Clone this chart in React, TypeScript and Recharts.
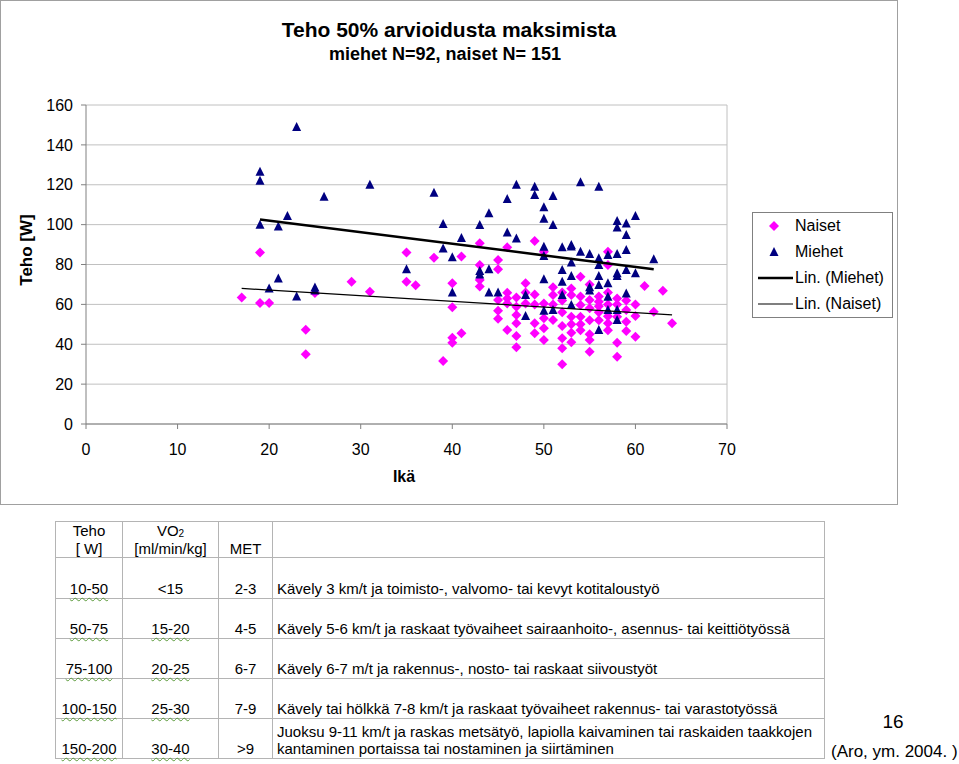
import { ScatterChart, Scatter, XAxis, YAxis, CartesianGrid, ReferenceLine } from "recharts";

// Ikä (age) / Teho (W) pairs
const naiset: [number, number][] = [
  [17, 63.5], [19, 86], [19, 60.7], [20, 60.7], [24, 47.3], [24, 35], [25, 65.7], [29, 71.4], [31, 66.3],
  [35, 86], [35, 71.4], [36, 69.6], [38, 83.4], [39, 31.6], [40, 70.6], [40, 58.5], [40, 43.3], [40, 40.8],
  [41, 84], [41, 45.5], [43, 90.6], [43, 79.7], [43, 72.2], [43, 69], [45, 82.2], [45, 77.6], [45, 62.2],
  [45, 56.8], [45, 52.8], [46, 88.6], [46, 65.8], [46, 63], [46, 60.5], [46, 47.1], [47, 63.5], [47, 58.8],
  [47, 54.7], [47, 50.5], [47, 44.1], [47, 38.5], [48, 70.6], [48, 66], [48, 60.5], [49, 91.8], [49, 65],
  [49, 60], [49, 50.5], [49, 45.5], [50, 86.4], [50, 60.5], [50, 53.1], [50, 48], [50, 42.1], [51, 68.6],
  [51, 64.7], [51, 60], [51, 52.2], [52, 66], [52, 62], [52, 56], [52, 49.1], [52, 43], [52, 38], [52, 30],
  [53, 68], [53, 64.7], [53, 53.8], [53, 50], [53, 45.8], [53, 41], [54, 73.9], [54, 64], [54, 59.7],
  [54, 53.8], [54, 50], [54, 47], [55, 70], [55, 62.2], [55, 58], [55, 52], [55, 45], [55, 42.1], [55, 36.3],
  [56, 64], [56, 61.3], [56, 59], [56, 56], [56, 52], [57, 86.4], [57, 79.7], [57, 66], [57, 60], [57, 54],
  [57, 50.5], [57, 47], [58, 63], [58, 60], [58, 53.8], [58, 40.8], [58, 33.7], [59, 62], [59, 57.2],
  [59, 51.3], [59, 46.6], [60, 60], [60, 54.2], [60, 43.8], [61, 69.2], [62, 56.3], [63, 66.8], [64, 50.5],
];

const miehet: [number, number][] = [
  [19, 126.5], [19, 122], [19, 100], [20, 68], [21, 99], [21, 73], [22, 104.3], [23, 149], [23, 64],
  [25, 68.5], [25, 67], [26, 114], [31, 120], [35, 77.6], [38, 116], [39, 100.3], [39, 88], [40, 83.6],
  [40, 66], [41, 93.3], [43, 99.8], [43, 76.7], [43, 75], [44, 105.7], [44, 77.6], [44, 66], [45, 66],
  [46, 112.8], [46, 96.1], [47, 120], [47, 93.1], [48, 64.7], [48, 54.2], [49, 119], [49, 114.8],
  [50, 108.7], [50, 103], [50, 88.9], [50, 84.3], [50, 72.6], [50, 56.8], [51, 114.3], [51, 99.8],
  [51, 57.2], [52, 88.6], [52, 77.2], [52, 71.4], [52, 64.7], [53, 89.8], [53, 89], [53, 81], [53, 74.2],
  [53, 59.7], [54, 121.2], [54, 86.4], [55, 85.3], [55, 68.6], [55, 67], [56, 119], [56, 83.1], [56, 79.7],
  [56, 74.2], [56, 69.7], [56, 47.1], [57, 84.8], [57, 70.6], [57, 63.8], [57, 57.2], [58, 101.8],
  [58, 98.5], [58, 85.3], [58, 75.6], [58, 74.2], [58, 57.2], [58, 52.2], [59, 100.6], [59, 94.8],
  [59, 87.3], [59, 77.2], [59, 65.5], [60, 104.3], [60, 75.6], [62, 82.6],
];

// trendline end points
const miehetTrend: [number, number][] = [[19, 102.6], [62, 77.6]];
const naisetTrend: [number, number][] = [[17, 68], [64, 54.7]];

const xTicks = [0, 10, 20, 30, 40, 50, 60, 70];
const yTicks = [0, 20, 40, 60, 80, 100, 120, 140, 160];

// table below the chart
const tehoCol = ["10-50", "50-75", "75-100", "100-150", "150-200"];
const vo2Col = ["<15", "15-20", "20-25", "25-30", "30-40"];
const metCol = ["2-3", "4-5", "6-7", "7-9", ">9"];
const descCol = [
  ["Kävely 3 km/t ja toimisto-, valvomo- tai kevyt kotitaloustyö"],
  ["Kävely 5-6 km/t ja raskaat työvaiheet sairaanhoito-, asennus- tai keittiötyössä"],
  ["Kävely 6-7 m/t ja rakennus-, nosto- tai raskaat siivoustyöt"],
  ["Kävely tai hölkkä 7-8 km/t ja raskaat työvaiheet rakennus- tai varastotyössä"],
  ["Juoksu 9-11 km/t ja raskas metsätyö, lapiolla kaivaminen tai raskaiden taakkojen", "kantaminen portaissa tai nostaminen ja siirtäminen"],
];

const FONT = '"Liberation Sans", Arial, sans-serif';
const toPts = (arr: [number, number][]) => arr.map(([x, y]) => ({ x, y }));

const Diamond = (props: any) => {
  const { cx, cy } = props;
  return <polygon points={`${cx},${cy - 5} ${cx + 5},${cy} ${cx},${cy + 5} ${cx - 5},${cy}`} fill="#ff00ff" />;
};

const Triangle = (props: any) => {
  const { cx, cy } = props;
  return <polygon points={`${cx},${cy - 5} ${cx + 4.5},${cy + 4} ${cx - 4.5},${cy + 4}`} fill="#000080" />;
};

const NoDot = () => <g />;

const squiggle = { textDecoration: "underline wavy #5a9a3a", textDecorationThickness: 1, textUnderlineOffset: 3 };

function LegendBox() {
  const row = { display: "flex", alignItems: "center", height: 26 };
  return (
    <div style={{ position: "absolute", left: 752, top: 212, width: 139, height: 104, border: "1px solid #808080", fontFamily: FONT, fontSize: 16 }}>
      <div style={row}>
        <svg width={42} height={26}><polygon points="21,8 26,13 21,18 16,13" fill="#ff00ff" /></svg>
        <span>Naiset</span>
      </div>
      <div style={row}>
        <svg width={42} height={26}><polygon points="21,8 25.5,17 16.5,17" fill="#000080" /></svg>
        <span>Miehet</span>
      </div>
      <div style={row}>
        <svg width={42} height={26}><line x1={5} x2={40} y1={13} y2={13} stroke="#000" strokeWidth={2.5} /></svg>
        <span>Lin. (Miehet)</span>
      </div>
      <div style={row}>
        <svg width={42} height={26}><line x1={5} x2={40} y1={13} y2={13} stroke="#000" strokeWidth={1.2} /></svg>
        <span>Lin. (Naiset)</span>
      </div>
    </div>
  );
}

export default function App() {
  const cell = { borderRight: "1px solid #b4b4b4", borderBottom: "1px solid #b4b4b4", padding: "0 4px 1px", verticalAlign: "bottom" as const };
  const head = { ...cell, textAlign: "center" as const, lineHeight: "17.5px", padding: "0 4px" };
  return (
    <div style={{ position: "absolute", left: 0, top: 0, width: 959, height: 764, background: "#fff", fontFamily: FONT, color: "#000", overflow: "hidden" }}>
      <div style={{ position: "absolute", left: 0, top: 0, width: 896, height: 503, border: "1px solid #a0a0a0" }} />
      <div style={{ position: "absolute", left: 449, top: 30, transform: "translate(-50%,-50%)", fontWeight: "bold", fontSize: 21, whiteSpace: "nowrap" }}>
        Teho 50% arvioidusta maksimista
      </div>
      <div style={{ position: "absolute", left: 445, top: 54, transform: "translate(-50%,-50%)", fontWeight: "bold", fontSize: 18, whiteSpace: "nowrap" }}>
        miehet N=92, naiset N= 151
      </div>
      <div style={{ position: "absolute", left: 27, top: 250, transform: "translate(-50%,-50%) rotate(-90deg)", fontWeight: "bold", fontSize: 17, whiteSpace: "nowrap" }}>
        Teho [W]
      </div>
      <div style={{ position: "absolute", left: 404, top: 477, transform: "translate(-50%,-50%)", fontWeight: "bold", fontSize: 16 }}>
        Ikä
      </div>

      <div style={{ position: "absolute", left: 0, top: 0 }}>
        <ScatterChart width={898} height={505} margin={{ top: 105, right: 171, bottom: 51, left: 0 }}>
          <CartesianGrid vertical={false} stroke="#c0c0c0" />
          <ReferenceLine x={70} stroke="#c0c0c0" />
          <XAxis
            type="number"
            dataKey="x"
            domain={[0, 70]}
            ticks={xTicks}
            height={30}
            tickSize={5}
            tickMargin={15}
            stroke="#808080"
            tick={{ fill: "#000", fontSize: 16, fontFamily: FONT }}
          />
          <YAxis
            type="number"
            dataKey="y"
            domain={[0, 160]}
            ticks={yTicks}
            width={86}
            tickSize={5}
            tickMargin={8}
            stroke="#808080"
            tick={{ fill: "#000", fontSize: 16, fontFamily: FONT }}
          />
          <Scatter name="Naiset" data={toPts(naiset)} shape={Diamond} isAnimationActive={false} />
          <Scatter name="Miehet" data={toPts(miehet)} shape={Triangle} isAnimationActive={false} />
          <Scatter data={toPts(miehetTrend)} line={{ stroke: "#000", strokeWidth: 2.5 }} lineType="joint" shape={NoDot} isAnimationActive={false} />
          <Scatter data={toPts(naisetTrend)} line={{ stroke: "#000", strokeWidth: 1.2 }} lineType="joint" shape={NoDot} isAnimationActive={false} />
        </ScatterChart>
      </div>
      <LegendBox />

      <table style={{ position: "absolute", left: 55, top: 521, width: 770, borderCollapse: "collapse", borderTop: "1px solid #b4b4b4", borderLeft: "1px solid #b4b4b4", fontSize: 15, lineHeight: "17px" }}>
        <colgroup>
          <col style={{ width: 67 }} />
          <col style={{ width: 96 }} />
          <col style={{ width: 54 }} />
          <col />
        </colgroup>
        <tbody>
          <tr style={{ height: 36 }}>
            <td style={head}><div>Teho</div><div>[ W]</div></td>
            <td style={head}>
              <div>VO<span style={{ fontSize: 10, lineHeight: "10px", position: "relative", top: 1 }}>2</span></div>
              <div>[ml/min/kg]</div>
            </td>
            <td style={head}>MET</td>
            <td style={cell}></td>
          </tr>
          {tehoCol.map((t, i) => (
            <tr key={t} style={{ height: i === 0 ? 41 : 40 }}>
              <td style={{ ...cell, textAlign: "center" }}><span style={squiggle}>{t}</span></td>
              <td style={{ ...cell, textAlign: "center" }}>
                <span style={vo2Col[i].startsWith("<") ? {} : squiggle}>{vo2Col[i]}</span>
              </td>
              <td style={{ ...cell, textAlign: "center" }}>{metCol[i]}</td>
              <td style={{ ...cell, whiteSpace: "nowrap" }}>
                {descCol[i].map((line, j) => (
                  <div key={j}>{line}</div>
                ))}
              </td>
            </tr>
          ))}
        </tbody>
      </table>

      <div style={{ position: "absolute", left: 893, top: 722, transform: "translate(-50%,-50%)", fontSize: 19 }}>16</div>
      <div style={{ position: "absolute", left: 831, top: 752, transform: "translateY(-50%)", fontSize: 17, whiteSpace: "nowrap" }}>(Aro, ym. 2004. )</div>
    </div>
  );
}
